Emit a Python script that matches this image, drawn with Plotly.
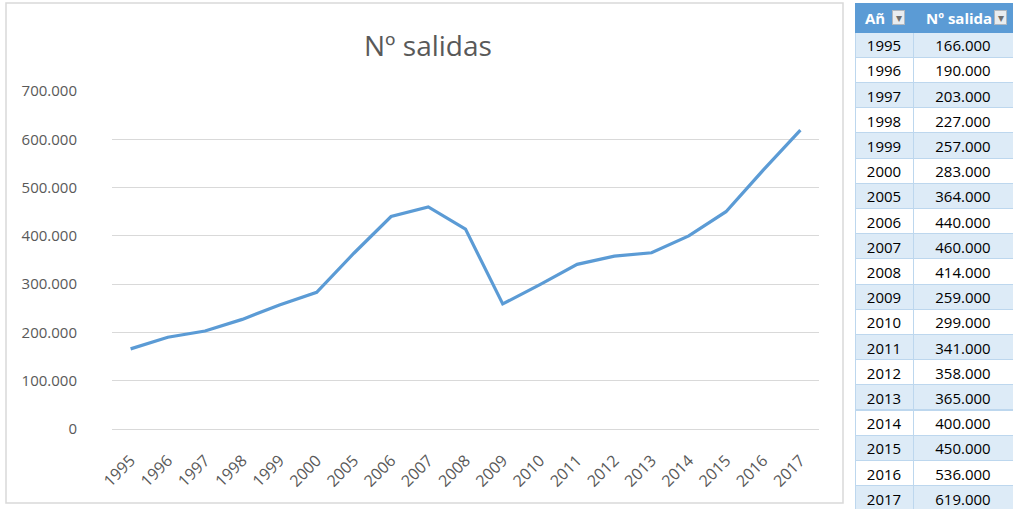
import plotly.graph_objects as go

years = ["1995", "1996", "1997", "1998", "1999", "2000", "2005", "2006", "2007", "2008",
         "2009", "2010", "2011", "2012", "2013", "2014", "2015", "2016", "2017"]
salidas = [166000, 190000, 203000, 227000, 257000, 283000, 364000, 440000, 460000, 414000,
           259000, 299000, 341000, 358000, 365000, 400000, 450000, 536000, 619000]
table_headers = ["Añ", "Nº salida"]
title_text = "Nº salidas"

W, H = 1013, 509
def px(x):
    return x / W
def py(y):
    return (H - y) / H

def fmt(v):
    return f"{v:,}".replace(",", ".")

FONT = "Open Sans, Liberation Sans, sans-serif"

fig = go.Figure()

fig.add_trace(go.Scatter(
    x=years, y=salidas, mode="lines",
    line=dict(color="#5B9BD5", width=3.2),
    showlegend=False, hoverinfo="skip",
))

fill_colors = ["#DDEBF7" if i % 2 == 0 else "#FFFFFF" for i in range(len(years))]
fig.add_trace(go.Table(
    domain=dict(x=[px(855), 1.0], y=[0.0, py(3)]),
    columnwidth=[58, 100],
    header=dict(
        values=["", ""],
        fill_color="#5B9BD5",
        line=dict(color="#5B9BD5", width=1),
        height=29,
    ),
    cells=dict(
        values=[years, [fmt(v) for v in salidas]],
        fill_color=[fill_colors, fill_colors],
        font=dict(family=FONT, size=15, color="black"),
        align=["center", "center"],
        height=25.2,
        line=dict(color="#BDD7EE", width=1),
    ),
))

header_x = [863, 924]
button_x = [898, 1000]
annotations = [
    dict(text=title_text, x=px(428), y=py(45), xref="paper", yref="paper",
         xanchor="center", yanchor="middle",
         showarrow=False, font=dict(size=28, color="#595959")),
]
for hx, label in zip(header_x, table_headers):
    annotations.append(dict(text=f"<b>{label}</b>", x=px(hx), y=py(18), xref="paper", yref="paper",
                            xanchor="left", yanchor="middle", showarrow=False,
                            font=dict(family=FONT, size=15, color="white")))
for bx in button_x:
    annotations.append(dict(text="▾", x=px(bx), y=py(17), xref="paper", yref="paper",
                            xanchor="center", yanchor="middle", showarrow=False,
                            font=dict(size=12, color="#6F6F6F"),
                            bgcolor="#E9ECEF", bordercolor="#B0B7BF", borderwidth=1,
                            width=11, height=13, borderpad=0))

fig.update_layout(
    width=W, height=H,
    margin=dict(l=0, r=0, t=0, b=0, autoexpand=False),
    paper_bgcolor="white",
    plot_bgcolor="white",
    separators=",.",
    font=dict(family=FONT, color="#595959"),
    xaxis=dict(
        domain=[px(112), px(819)],
        type="category",
        range=[-0.5, len(years) - 0.5],
        showgrid=False,
        tickangle=-45,
        tickfont=dict(size=16, color="#595959"),
        showline=True, linecolor="#D9D9D9",
        ticks="", automargin=False, ticklabelstandoff=15,
    ),
    yaxis=dict(
        domain=[py(429), py(91)],
        range=[0, 700000],
        dtick=100000,
        tickformat=",d",
        gridcolor="#D9D9D9",
        zeroline=False,
        tickfont=dict(size=15, color="#595959"),
        ticks="", ticklabelstandoff=34, automargin=False,
    ),
    shapes=[
        dict(type="rect", xref="paper", yref="paper",
             x0=px(6), x1=px(843), y0=py(503), y1=py(3),
             line=dict(color="#D9D9D9", width=1.5),
             fillcolor="rgba(0,0,0,0)", layer="below"),
    ],
    annotations=annotations,
)

fig.write_html(
    "out.html",
    config={"displayModeBar": False},
    post_script="document.body.style.margin='0';document.body.style.overflow='hidden';",
)
